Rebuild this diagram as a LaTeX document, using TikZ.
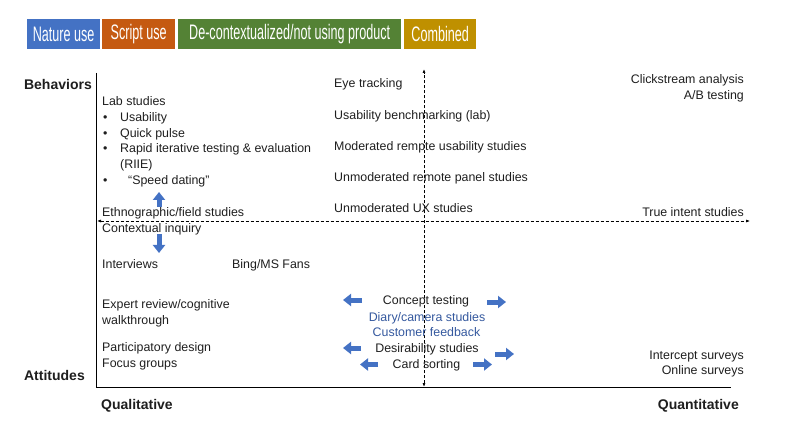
\documentclass[tikz,border=0pt]{standalone}
\usepackage{fontspec}
\setmainfont{Liberation Sans}
\newfontfamily\legfont[FakeStretch=0.6]{Liberation Sans}
\usetikzlibrary{arrows.meta}
\definecolor{natblue}{HTML}{4472C4}
\definecolor{scrorange}{HTML}{C55A11}
\definecolor{decgreen}{HTML}{548235}
\definecolor{comgold}{HTML}{BF9000}
\definecolor{txtblue}{RGB}{52,88,158}
\definecolor{txtdark}{RGB}{30,30,30}
\tikzset{
  legbox/.style={fill=#1, text=white, minimum height=30pt, inner sep=0pt, font=\legfont\fontsize{21}{23}\selectfont, anchor=north west},
  body/.style={font=\fontsize{12.4}{14}\selectfont, text=txtdark, inner sep=0pt, anchor=base west},
  bodyr/.style={body, anchor=base east},
  bodyc/.style={body, anchor=base},
  bluetxt/.style={body, anchor=base, text=txtblue},
  axlabel/.style={font=\bfseries\fontsize{14}{16}\selectfont, text=txtdark, inner sep=0pt},
  blockarrow/.style={draw=natblue, line width=5pt, -{Triangle[width=12pt,length=8pt]}},
  dashaxis/.style={line width=0.7pt, dash pattern=on 3pt off 2pt, {Latex[length=4pt,width=3pt]}-{Latex[length=4pt,width=3pt]}}
}
\begin{document}
\begin{tikzpicture}[x=1pt,y=-1pt]
\useasboundingbox (0,0) rectangle (786,443);
% legend
\node[legbox=natblue, minimum width=73pt] (leg1) at (27,19) {Nature use};
\node[legbox=scrorange, minimum width=73pt] (leg2) at (102,19) {Script use};
\node[legbox=decgreen, minimum width=223pt] (leg3) at (178,19) {De-contextualized/not using product};
\node[legbox=comgold, minimum width=72pt] (leg4) at (404,19) {Combined};
% axes
\coordinate (ytop) at (96,73);
\coordinate (origin) at (96,387);
\coordinate (xend) at (731,387);
\draw[line width=1pt] (ytop) -- (origin) -- (xend);
\coordinate (vtop) at (424,69);
\coordinate (vbot) at (424,387);
\coordinate (hleft) at (97,221);
\coordinate (hright) at (750,221);
\draw[dashaxis] (vbot) -- (vtop);
\draw[dashaxis] (hleft) -- (hright);
% axis labels
\node[axlabel, anchor=base east] (beh) at (92,90) {Behaviors};
\node[axlabel, anchor=base east] (att) at (85,380.5) {Attitudes};
\node[axlabel, anchor=base west] (qual) at (101,409) {Qualitative};
\node[axlabel, anchor=base east] (quant) at (739,409) {Quantitative};
% left column
\node[body] (lab) at (102,106) {Lab studies};
\node[body] (b1) at (103,121.5) {\textbullet};
\node[body] (usab) at (120,121.5) {Usability};
\node[body] (b2) at (103,137.5) {\textbullet};
\node[body] (quick) at (120,137.5) {Quick pulse};
\node[body] (b3) at (103,153) {\textbullet};
\node[body] (rapid) at (120,153) {Rapid iterative testing \& evaluation};
\node[body] (riie) at (120,168.5) {(RIIE)};
\node[body] (b4) at (103,184.5) {\textbullet};
\node[body] (speed) at (128,184.5) {“Speed dating”};
\node[body] (ethno) at (102,216.5) {Ethnographic/field studies};
\node[body] (ctx) at (102,232.5) {Contextual inquiry};
\node[body] (interv) at (102,269) {Interviews};
\node[body] (bing) at (232,269) {Bing/MS Fans};
\node[body] (expert) at (102,308) {Expert review/cognitive};
\node[body] (walk) at (102,324) {walkthrough};
\node[body] (partic) at (102,351) {Participatory design};
\node[body] (focus) at (102,367) {Focus groups};
% middle column
\node[body] (eye) at (334,88) {Eye tracking};
\node[body] (bench) at (334,119.5) {Usability benchmarking (lab)};
\node[body] (modrem) at (334,151) {Moderated rempte usability studies};
\node[body] (unmodrem) at (334,181.5) {Unmoderated remote panel studies};
\node[body] (unmodux) at (334,212.5) {Unmoderated UX studies};
% right column
\node[bodyr] (click) at (744,83.5) {Clickstream analysis};
\node[bodyr] (ab) at (744,100) {A/B testing};
\node[bodyr] (trueint) at (744,217) {True intent studies};
\node[bodyr] (intercept) at (744,359) {Intercept surveys};
\node[bodyr] (online) at (744,374.5) {Online surveys};
% lower middle
\node[bodyc] (concept) at (426,305) {Concept testing};
\node[bluetxt] (diary) at (427,321) {Diary/camera studies};
\node[bluetxt] (custfb) at (426.5,336.5) {Customer feedback};
\node[bodyc] (desir) at (427,352) {Desirability studies};
\node[bodyc] (card) at (426.5,368) {Card sorting};
% block arrows
\coordinate (ua1) at (159,207); \coordinate (ua2) at (159,192);
\draw[blockarrow] (ua1) -- (ua2);
\coordinate (da1) at (159,234); \coordinate (da2) at (159,253);
\draw[blockarrow] (da1) -- (da2);
\coordinate (l1a) at (362,300); \coordinate (l1b) at (343,300);
\draw[blockarrow] (l1a) -- (l1b);
\coordinate (l2a) at (361,348); \coordinate (l2b) at (343,348);
\draw[blockarrow] (l2a) -- (l2b);
\coordinate (l3a) at (378,364.5); \coordinate (l3b) at (360,364.5);
\draw[blockarrow] (l3a) -- (l3b);
\coordinate (r1a) at (487,302); \coordinate (r1b) at (506,302);
\draw[blockarrow] (r1a) -- (r1b);
\coordinate (r2a) at (495,354); \coordinate (r2b) at (514,354);
\draw[blockarrow] (r2a) -- (r2b);
\coordinate (r3a) at (473,364.5); \coordinate (r3b) at (492,364.5);
\draw[blockarrow] (r3a) -- (r3b);
\end{tikzpicture}
\end{document}
